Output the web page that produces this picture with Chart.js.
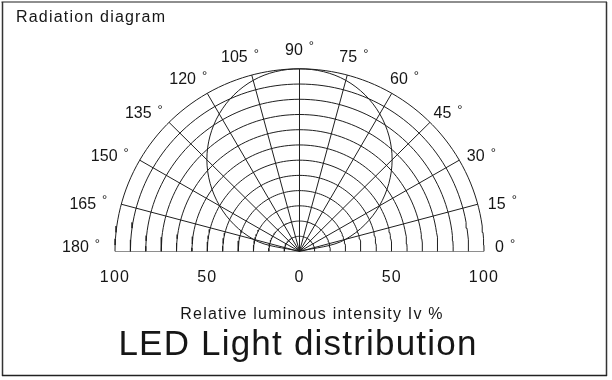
<!DOCTYPE html>
<html>
<head>
<meta charset="utf-8">
<script src="https://cdn.jsdelivr.net/npm/chart.js@4.4.1/dist/chart.umd.min.js"></script>
<style>
  html, body { margin: 0; padding: 0; background: #ffffff; }
  #wrap { position: relative; width: 612px; height: 380px; }
  canvas { display: block; }
</style>
</head>
<body>
<div id="wrap"><canvas id="c" width="612" height="380"></canvas></div>
<script>
// ---- data ----
const spokeAngles = [0, 15, 30, 45, 60, 75, 90, 105, 120, 135, 150, 165, 180];
const angleLabels = ['0', '15', '30', '45', '60', '75', '90', '105', '120', '135', '150', '165', '180'];
const ringLevels = [8.33, 16.67, 25, 33.33, 41.67, 50, 58.33, 66.67, 75, 83.33, 91.67, 100];
const patternAngles = [0, 15, 30, 45, 60, 75, 90, 105, 120, 135, 150, 165, 180];
const patternIntensity = [0, 26, 50, 71, 87, 97, 100, 97, 87, 71, 50, 26, 0];
const axisTickValues = [-100, -50, 0, 50, 100];
const titleText = 'LED Light distribution';
const subtitleText = 'Radiation diagram';
const axisTitleText = 'Relative luminous intensity Iv %';

const LINE = '#1f1f1f';
const TEXT = '#161616';
const FONT = '"Liberation Sans", Arial, Helvetica, sans-serif';
Chart.defaults.font.family = FONT;
Chart.defaults.color = TEXT;

const rad = d => d * Math.PI / 180;
const polar = (r, deg) => ({ x: r * Math.cos(rad(deg)), y: r * Math.sin(rad(deg)) });

const lineStyle = { showLine: true, pointRadius: 0, pointHoverRadius: 0, borderWidth: 1, borderColor: LINE, fill: false, tension: 0 };

// grid rings (semicircles)
const ringSets = ringLevels.map(level => {
  const pts = [];
  for (let a = 0; a <= 180; a += 2) pts.push(polar(level, a));
  return Object.assign({ data: pts }, lineStyle);
});
// spokes every 15 degrees
const spokeSets = spokeAngles.map(a => Object.assign({ data: [{ x: 0, y: 0 }, polar(100, a)] }, lineStyle));
// radiation pattern
const patternSet = Object.assign({}, lineStyle, {
  data: patternAngles.map((a, i) => polar(patternIntensity[i], a)),
  tension: 0.35
});

const framePlugin = {
  id: 'frame',
  beforeDraw(chart) {
    const ctx = chart.ctx;
    ctx.letterSpacing = '1.2px';
    ctx.save();
    ctx.letterSpacing = '0px';
    ctx.lineCap = 'butt';
    ctx.strokeStyle = '#8e8e8e'; ctx.lineWidth = 2;
    ctx.beginPath(); ctx.moveTo(1.5, 2); ctx.lineTo(607, 2); ctx.stroke();
    ctx.strokeStyle = '#333333'; ctx.lineWidth = 1.5;
    ctx.beginPath(); ctx.moveTo(2.5, 2); ctx.lineTo(2.5, 376); ctx.stroke();
    ctx.beginPath(); ctx.moveTo(606.5, 2); ctx.lineTo(606.5, 376); ctx.stroke();
    ctx.strokeStyle = '#222222';
    ctx.beginPath(); ctx.moveTo(2, 375.5); ctx.lineTo(607, 375.5); ctx.stroke();
    ctx.restore();
  }
};

const angleLabelPlugin = {
  id: 'angleLabels',
  afterDatasetsDraw(chart) {
    const { ctx, scales: { x, y } } = chart;
    ctx.save();
    ctx.letterSpacing = '0px';
    ctx.fillStyle = TEXT;
    ctx.textAlign = 'left';
    ctx.textBaseline = 'alphabetic';
    spokeAngles.forEach((deg, i) => {
      const c = Math.cos(rad(deg)), s = Math.sin(rad(deg));
      const rx = x.getPixelForValue(100 * c);
      const ry = y.getPixelForValue(100 * s);
      const num = angleLabels[i];
      ctx.font = '16px ' + FONT;
      const nw = ctx.measureText(num).width;
      ctx.font = '13px ' + FONT;
      const dw = ctx.measureText('°').width;
      const w = nw + 6 + dw;
      const px = rx + 11 * c - (c < -0.01 ? 4 : 0);
      const left = px - w * (1 - c) / 2;
      let yc = ry - 20 * s * s;
      if (s < 0.01) yc -= 5;
      ctx.font = '16px ' + FONT;
      ctx.fillText(num, left, yc + 5.7);
      ctx.font = '13px ' + FONT;
      ctx.fillText('°', left + nw + 6, yc + 1.6);
    });
    ctx.restore();
  }
};

new Chart(document.getElementById('c'), {
  type: 'scatter',
  data: { datasets: [...ringSets, ...spokeSets, patternSet] },
  options: {
    responsive: false,
    maintainAspectRatio: false,
    animation: false,
    events: [],
    layout: { padding: { left: 16, right: 32, top: 4, bottom: 0 } },
    plugins: {
      legend: { display: false },
      tooltip: { enabled: false },
      subtitle: {
        display: true, text: subtitleText, position: 'top', align: 'start',
        color: TEXT, font: { size: 16, weight: 'normal', lineHeight: 1.2 },
        padding: { top: 4, bottom: 4 }
      },
      title: {
        display: true, text: titleText, position: 'bottom', align: 'center',
        color: TEXT, font: { size: 35, weight: 'normal', lineHeight: 1.2 },
        padding: { top: 0, bottom: 13.5 }
      }
    },
    scales: {
      x: {
        type: 'linear', position: 'bottom', min: -138.48, max: 152.03,
        afterBuildTicks: s => { s.ticks = axisTickValues.map(v => ({ value: v })); },
        afterFit: s => { s.height = 73; },
        grid: { display: false, drawTicks: false },
        border: { display: false },
        ticks: {
          autoSkip: false, maxRotation: 0, padding: 16.4, color: TEXT,
          font: { size: 16 }, callback: v => String(Math.abs(v))
        },
        title: {
          display: true, text: axisTitleText, color: TEXT,
          font: { size: 16 }, padding: { top: 0, bottom: 0 }
        }
      },
      y: {
        type: 'linear', position: 'left', min: 0, max: 120.6,
        afterFit: s => { s.width = 28; },
        grid: { display: false, drawTicks: false },
        border: { display: false },
        ticks: { display: false }
      }
    }
  },
  plugins: [framePlugin, angleLabelPlugin]
});
</script>
</body>
</html>
